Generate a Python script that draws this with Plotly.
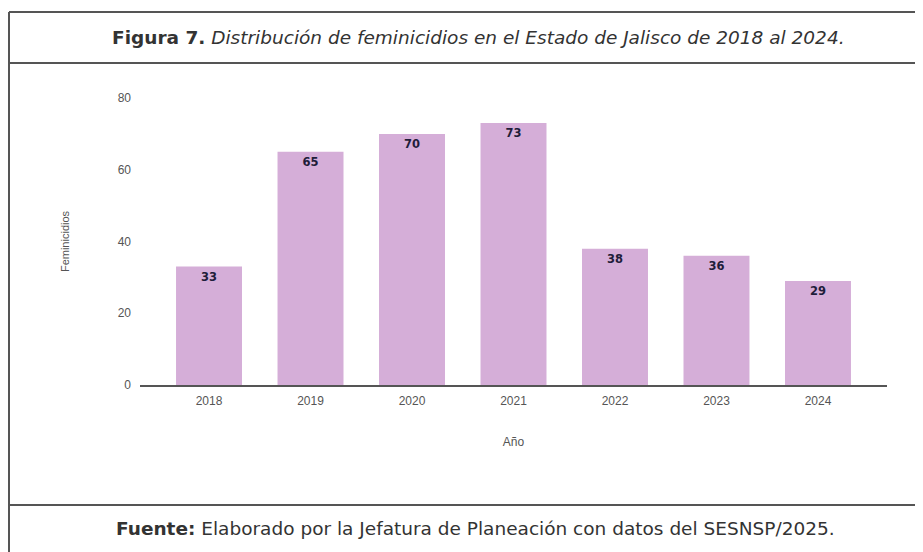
import plotly.graph_objects as go

years = ["2018", "2019", "2020", "2021", "2022", "2023", "2024"]
feminicidios = [33, 65, 70, 73, 38, 36, 29]
y_ticks = [0, 20, 40, 60, 80]

OFF = 8  # page body margin
W, H = 923 - OFF, 552 - OFF
L, R, T, B = 140 - OFF, 36, 98 - OFF, 167
pw, ph = W - L - R, H - T - B

def px(x):
    return (x - OFF - L) / pw

def py(y):
    return (H - B - (y - OFF)) / ph

fig = go.Figure(go.Bar(
    x=years, y=feminicidios,
    marker=dict(color="#d5aed8", line=dict(width=0)),
    width=0.65,
    text=[str(v) for v in feminicidios],
    textposition="inside", insidetextanchor="end",
    textfont=dict(family="DejaVu Sans", size=11.5, color="#1f1d3a", weight="bold"),
    cliponaxis=False,
))

line_col = "#555555"
shapes = [
    dict(type="line", xref="paper", yref="paper", x0=px(9), x1=px(930), y0=py(12), y1=py(12), line=dict(color=line_col, width=2)),
    dict(type="line", xref="paper", yref="paper", x0=px(9), x1=px(930), y0=py(63), y1=py(63), line=dict(color=line_col, width=2)),
    dict(type="line", xref="paper", yref="paper", x0=px(9), x1=px(930), y0=py(505), y1=py(505), line=dict(color=line_col, width=2)),
    dict(type="line", xref="paper", yref="paper", x0=px(9), x1=px(9), y0=py(12), y1=py(560), line=dict(color=line_col, width=2)),
]

annotations = [
    dict(xref="paper", yref="paper", x=px(478), y=py(38), showarrow=False,
         text="<b>Figura 7.</b><i> Distribución de feminicidios en el Estado de Jalisco de 2018 al 2024.</i>",
         font=dict(family="DejaVu Sans", size=18.5, color="#333333"), xanchor="center", yanchor="middle"),
    dict(xref="paper", yref="paper", x=px(475), y=py(528), showarrow=False,
         text="<b>Fuente:</b> Elaborado por la Jefatura de Planeación con datos del SESNSP/2025.",
         font=dict(family="DejaVu Sans", size=18.5, color="#333333"), xanchor="center", yanchor="middle"),
]

fig.update_layout(
    width=W, height=H,
    margin=dict(l=L, r=R, t=T, b=B),
    paper_bgcolor="white", plot_bgcolor="white",
    showlegend=False,
    shapes=shapes, annotations=annotations,
    xaxis=dict(
        range=[-0.68, 6.68], showgrid=False, showline=True, linecolor="#555555", linewidth=1.5,
        ticks="", tickfont=dict(family="Liberation Sans", size=12, color="#555555"),
        title=dict(text="Año", font=dict(family="Liberation Sans", size=12, color="#555555"), standoff=30),
        ticklabelstandoff=4,
    ),
    yaxis=dict(
        range=[0, 80], tickvals=y_ticks, showgrid=False, zeroline=False, showline=False,
        tickfont=dict(family="Liberation Sans", size=12, color="#555555"), ticklabelstandoff=8,
        title=dict(text="Feminicidios", font=dict(family="Liberation Sans", size=11, color="#555555"), standoff=45),
    ),
    bargap=0.35,
)

fig.write_html("out.html")
